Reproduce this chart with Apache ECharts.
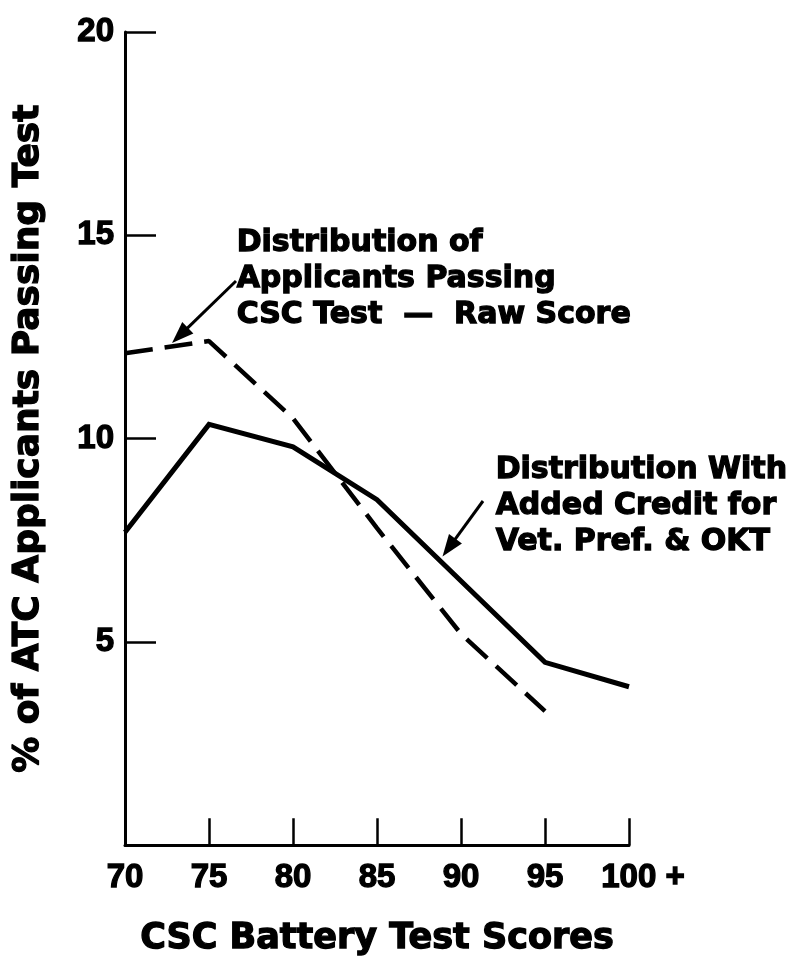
<!DOCTYPE html>
<html>
<head>
<meta charset="utf-8">
<script src="https://cdn.jsdelivr.net/npm/echarts@6/dist/echarts.min.js"></script>
<style>
  html, body { margin: 0; padding: 0; background: #fff; }
  #chart { width: 787px; height: 962px; }
</style>
</head>
<body>
<div id="chart"></div>
<script>
// CSC battery test score bins (x axis)
const scores = [70, 75, 80, 85, 90, 95, 100];
// % of ATC applicants passing, raw score only (no value for 100+)
const rawScore = [12.1, 12.4, 10.5, 7.8, 5.2, 3.3, null];
// % of ATC applicants passing, with added credit for Vet. Pref. & OKT
const withCredit = [7.7, 10.35, 9.8, 8.5, 6.5, 4.5, 3.9];
// y axis ticks
const yTicks = [5, 10, 15, 20];

const INK = '#000';
const TEXT_FONT = '"DejaVu Sans", sans-serif';
const NUM_FONT = '"Liberation Sans", Arial, sans-serif';
// a thin outline in the ink colour gives the heavy, black type weight
const HEAVY = { textBorderColor: INK, textBorderWidth: 1.3 };

const toPairs = (vals) => scores.map((s, i) => [s, vals[i]]).filter(p => p[1] != null);

const chart = echarts.init(document.getElementById('chart'), null, { renderer: 'canvas' });

const numStyle = Object.assign({ color: INK, fontFamily: NUM_FONT, fontWeight: 'bold', fontSize: 33 }, HEAVY);

chart.setOption({
  backgroundColor: '#fff',
  animation: false,
  grid: { left: 125, right: 158, top: 32, bottom: 116, containLabel: false },
  xAxis: {
    type: 'value',
    min: 70, max: 100, interval: 5,
    name: 'CSC Battery Test Scores',
    nameLocation: 'middle',
    nameGap: 76,
    nameTextStyle: Object.assign({ color: INK, fontFamily: TEXT_FONT, fontWeight: 'bold', fontSize: 35 }, HEAVY),
    axisLine: { show: true, lineStyle: { color: INK, width: 3 } },
    axisTick: { show: true, inside: true, length: 27, lineStyle: { color: INK, width: 2.5 } },
    splitLine: { show: false },
    axisLabel: Object.assign({}, numStyle, {
      margin: 16,
      formatter: (v) => v === 100 ? '{p|}{n|100 +}' : '{n|' + v + '}',
      rich: {
        p: { width: 28 },
        n: numStyle
      }
    })
  },
  yAxis: {
    type: 'value',
    min: 0, max: 20, interval: 5,
    name: '% of ATC Applicants Passing Test',
    nameLocation: 'middle',
    nameGap: 78,
    nameTextStyle: Object.assign({ color: INK, fontFamily: TEXT_FONT, fontWeight: 'bold', fontSize: 36 }, HEAVY),
    axisLine: { show: true, lineStyle: { color: INK, width: 3 } },
    axisTick: { show: true, inside: true, length: 31, lineStyle: { color: INK, width: 2.5 } },
    splitLine: { show: false },
    axisLabel: Object.assign({}, numStyle, {
      margin: 11,
      formatter: (v) => yTicks.includes(v) ? String(v) : ''
    })
  },
  series: [
    {
      name: 'Raw Score',
      type: 'line',
      data: toPairs(rawScore),
      showSymbol: false,
      symbol: 'none',
      lineStyle: { color: INK, width: 4.5, type: [28, 12], cap: 'butt' },
      z: 3
    },
    {
      name: 'With Added Credit',
      type: 'line',
      data: toPairs(withCredit),
      showSymbol: false,
      symbol: 'none',
      lineStyle: { color: INK, width: 5, type: 'solid', join: 'miter' },
      z: 4
    }
  ]
});

// Arrow from a text block down to a point on a curve
function arrow(tail, tip) {
  const dx = tip[0] - tail[0], dy = tip[1] - tail[1];
  const len = Math.hypot(dx, dy);
  const ux = dx / len, uy = dy / len;
  const headLen = 22, headW = 8;
  const bx = tip[0] - ux * headLen, by = tip[1] - uy * headLen;
  return [
    {
      type: 'line',
      shape: { x1: tail[0], y1: tail[1], x2: bx + ux * 2, y2: by + uy * 2 },
      style: { stroke: INK, lineWidth: 3 },
      z: 10
    },
    {
      type: 'polygon',
      shape: { points: [tip, [bx - uy * headW, by + ux * headW], [bx + uy * headW, by - ux * headW]] },
      style: { fill: INK },
      z: 10
    }
  ];
}

const tip1 = chart.convertToPixel({ gridIndex: 0 }, [72.8, 12.35]);
const tip2 = chart.convertToPixel({ gridIndex: 0 }, [88.9, 7.1]);

const noteStyle = {
  fill: INK, fontFamily: TEXT_FONT, fontWeight: 'bold', fontSize: 30, lineHeight: 36,
  textAlign: 'left', textVerticalAlign: 'top', stroke: INK, lineWidth: 1.3
};

chart.setOption({
  graphic: [
    {
      type: 'text', left: 236, top: 225, z: 10,
      style: Object.assign({ text: 'Distribution of\nApplicants Passing\nCSC Test  \u2014  Raw Score' }, noteStyle)
    },
    {
      type: 'text', left: 495, top: 452, z: 10,
      style: Object.assign({ text: 'Distribution With\nAdded Credit for\nVet. Pref. & OKT' }, noteStyle)
    },
    ...arrow([236, 281], tip1),
    ...arrow([483, 501], tip2)
  ]
});
</script>
</body>
</html>
